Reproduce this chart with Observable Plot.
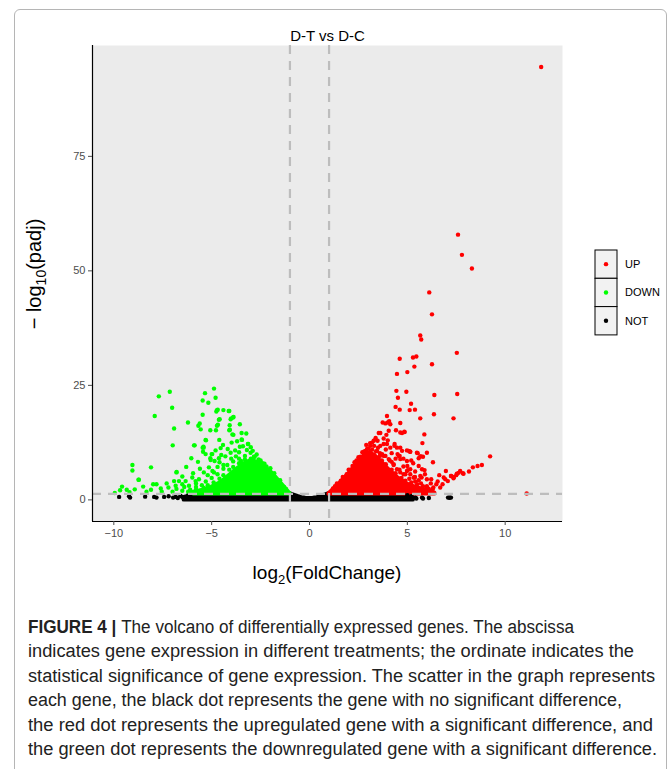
<!DOCTYPE html>
<html>
<head>
<meta charset="utf-8">
<script src="https://cdn.jsdelivr.net/npm/d3@7"></script>
<script src="https://cdn.jsdelivr.net/npm/@observablehq/plot@0.6"></script>
<style>
  body { margin: 0; background: #fff; }
  #fig { position: relative; width: 672px; height: 769px; overflow: hidden; font-family: "Liberation Sans", Arial, sans-serif; }
  #frame { position: absolute; left: 14px; top: 9px; width: 653px; height: 840px; border: 1px solid #b5b5b5; border-radius: 6px; box-sizing: border-box; }
  #chart { position: absolute; left: 0; top: 0; }
  #caption { position: absolute; left: 0; top: 598px; }
</style>
</head>
<body>
<div id="fig">
  <div id="frame"></div>
  <div id="chart"></div>
  <svg id="caption" width="672" height="171"></svg>
</div>
<script>
// Volcano plot: D-T vs D-C
const chartTitle = "D-T vs D-C";
const groups = ["UP", "DOWN", "NOT"];
const groupColors = ["#ff0000", "#00ff00", "#000000"];
const xTicks = [-10, -5, 0, 5, 10];
const yTicks = [0, 25, 50, 75];
const fcCut = [-1, 1];            // |log2 fold change| threshold
const padjCut = 1.301;            // -log10(0.05)
const xDomain = [-11.09, 12.93];
const yDomain = [-4.72, 99.2];

// Individually resolved genes: upregulated
const upX = [11.84,7.59,7.79,8.30,6.12,6.26,5.66,5.71,7.53,5.29,5.46,4.61,6.26,5.36,4.47,5.0,4.44,4.95,6.38,7.55,4.52,5.19,4.40,4.61,5.12,5.39,6.36,3.96,5.66,7.36,4.07,4.13,4.0,4.64,3.74,3.88,5.87,4.85,4.73,3.54,3.62,4.42,4.64,4.86,4.05,3.93,5.77,3.2,3.37,3.48,3.28,3.38,3.79,4.0,3.62,3.79,3.96,4.13,4.35,4.47,4.34,4.64,4.98,5.14,4.73,5.07,5.49,5.53,5.70,5.80,5.66,6.0,5.15,4.56,4.64,4.61,4.98,5.58,9.23,6.31,8.81,8.59,8.35,8.15,7.84,7.70,7.62,7.50,7.38,7.24,6.97,6.63,6.55,6.48,6.94,7.07,6.80,6.22,5.88,5.73,5.58,5.39,5.15,5.02,4.81,6.68,6.33,6.0,5.37,5.66,6.0,5.58,5.75,4.30,4.47,4.64,4.98,5.15,5.32,2.94,3.11,2.86,3.45,3.71,3.88,4.05,7.53,7.87,6.86,7.23,7.36,11.1,3.3,3.5,3.7,3.9,4.2,4.4,4.7,4.9,5.2,5.5,5.8,6.1,3.6,4.2,4.8,4.4,5.3,5.0,4.2,3.5,3.1,2.7,2.5,2.3,2.0,1.7,1.4,1.2,
  1.3,1.6,1.9,2.1,2.2,2.4,2.6,2.8,3.0,3.2,3.4,3.6,3.8,4.1,4.3,4.6,4.9,5.1,5.4,5.7,6.0,6.3,2.9,3.1,3.3,3.9,4.5,4.8,5.2,5.4,5.9,6.2];
const upY = [94.5,57.9,53.5,50.5,45.3,40.5,35.9,35.0,32.1,31.1,31.3,30.8,29.6,29.1,27.5,27.9,23.8,23.6,22.9,23.1,22.3,21.0,20.3,19.7,19.6,19.7,18.7,18.3,17.8,17.8,17.2,16.5,16.9,16.8,16.9,16.7,14.3,14.9,14.6,14.6,14.6,15.2,14.7,14.8,15.1,14.2,12.4,12.5,13.2,12.9,12.9,13.5,13.4,13.0,11.8,12.2,12.2,11.4,12.2,11.4,11.8,11.4,10.8,10.5,10.7,10.7,10.3,10.2,9.5,9.4,9.5,10.3,10.5,9.6,8.9,9.6,8.5,9.1,9.5,8.2,7.6,7.4,7.1,6.2,5.8,6.3,5.9,5.4,5.0,5.2,6.3,5.4,4.0,3.4,4.5,4.1,3.4,4.5,6.5,4.9,4.3,5.0,6.7,6.5,5.6,2.7,2.7,2.7,4.9,5.2,4.5,7.4,6.7,7.8,6.7,6.0,6.3,5.6,4.9,11.1,10.5,10.7,10.7,10.0,9.6,8.9,5.7,5.7,4.9,5.2,4.7,1.4,9.8,9.2,8.6,7.8,6.6,5.8,4.8,4.2,3.8,3.4,3.0,2.4,9.6,8.3,7.3,9.0,8.0,7.4,10.2,11.4,11.8,10.4,9.3,8.2,6.6,5.0,3.6,2.5,
  3.0,4.2,5.6,6.6,7.4,8.6,9.4,10.6,11.2,11.0,10.6,10.2,9.6,8.6,7.6,6.6,5.6,4.6,4.0,3.6,3.0,2.4,12.0,12.4,11.8,11.0,10.0,9.0,8.6,6.2,5.6,3.6];

// Individually resolved genes: downregulated
const downX = [-9.95,-9.68,-9.58,-9.34,-9.05,-9.05,-8.93,-8.74,-8.33,-8.10,-8.10,-7.99,-7.82,-7.91,-7.70,-7.55,-7.30,-7.21,-7.14,-7.02,-6.92,-6.99,-6.80,-6.92,-6.84,-6.67,-6.50,-6.33,-6.16,-6.21,-6.04,-5.95,-5.87,-5.68,-5.61,-5.56,-5.46,-5.46,-5.17,-5.34,-4.88,-4.80,-5.29,-5.07,-5.42,-5.44,-5.31,-5.0,-5.05,-4.76,-4.69,-4.59,-4.40,-4.78,-4.85,-4.63,-5.14,-4.96,-4.88,-5.99,-5.82,-5.65,-4.73,-4.10,-4.0,-3.88,-4.68,-4.08,-3.56,-4.10,-3.94,-3.47,-3.23,-5.31,-4.61,-3.98,-3.47,-4.42,-3.13,-4.80,-4.18,-3.56,-5.41,-4.51,-4.03,-3.76,-3.01,-2.84,-4.97,-5.07,-4.13,-3.91,-4.03,-4.73,-4.63,-4.07,-3.89,-3.45,-3.15,-4.54,-5.90,-5.46,-8.72,-6.79,-2.6,-2.4,-2.2,-3.3,-3.6,-3.9,-4.2,-4.4,-4.7,-5.0,-5.3,-5.5,-5.8,-6.1,-6.5,-7.0,-3.2,-3.4,-3.8,-4.3,-4.6,-4.4,-3.5,-2.7,-2.9,-3.7,-5.2,-5.6,-5.7,-6.3,-6.5,-7.6,-8.5,-9.2,-1.3,-1.8,
  -1.2,-1.5,-1.8,-2.0,-2.3,-2.5,-2.8,-3.0,-3.3,-3.6,-3.9,-4.1,-4.4,-4.6,-4.9,-5.2,-5.4,-5.8,-6.2,-3.0,-3.6,-4.0,-4.7,-5.4,-5.8,-6.4,-6.8];
const downY = [1.5,2.1,2.9,2.2,7.6,6.4,2.3,4.4,1.8,7.1,2.2,3.4,3.4,18.3,22.6,1.8,3.6,2.7,23.6,20.1,15.6,11.9,6.0,4.1,3.1,4.1,3.4,4.1,3.1,16.9,9.1,5.8,11.9,16.2,16.7,15.4,18.6,21.7,21.2,23.3,24.3,22.3,13.0,15.2,11.6,10.5,10.0,10.0,8.7,19.3,19.7,17.6,19.6,15.2,8.5,9.1,7.1,6.3,6.0,4.9,4.1,4.5,19.6,19.4,17.8,18.1,16.4,16.3,16.5,15.2,14.3,14.6,14.5,13.1,13.1,12.5,13.2,12.0,12.2,10.8,11.1,11.6,11.4,9.8,10.3,9.5,10.3,9.4,10.0,9.1,19.4,18.0,17.6,16.2,17.5,15.3,14.2,13.1,12.2,11.3,11.9,11.4,4.4,6.1,8.8,8.0,7.3,9.6,9.0,8.4,7.6,6.8,5.6,4.8,4.0,3.2,2.8,2.2,2.0,1.8,10.9,11.7,10.8,9.5,8.2,7.6,8.5,9.9,10.7,12.8,5.4,6.8,8.3,7.2,5.1,2.5,2.9,1.7,2.8,5.1,
  2.4,4.3,5.8,6.9,7.9,8.6,9.4,9.0,8.8,8.0,7.2,6.6,5.4,4.6,3.8,3.2,2.6,2.2,1.8,11.5,10.4,9.0,7.2,6.0,3.6,2.8,2.4];

// Individually resolved genes: not significant
const notX = [-9.73,-9.22,-9.17,-7.94,-7.82,-7.43,-6.97,-6.84,-6.73,-6.50,-6.33,-6.07,5.41,5.46,5.75,5.80,7.08,7.16,7.23,-8.4,-7.2,-6.6,-6.2,5.2,5.0,6.1];
const notY = [0.65,0.8,0.5,0.65,0.5,0.65,0.5,0.65,0.4,0.65,0.5,0.65,0.5,0.3,0.5,0.3,0.5,0.45,0.5,0.7,0.8,0.9,1.0,0.8,1.0,0.4];

// Saturated cores of each group (upper envelope of the densely overplotted genes)
const notCoreX = [-6.4,-6.0,-5.5,-5.0,-4.0,-3.0,-2.0,-1.0,-0.8,-0.6,-0.4,-0.2,0,0.2,0.4,0.6,0.8,1.0,2.0,3.0,4.0,4.6,5.0,5.3];
const notCoreTop = [0.5,0.9,1.1,1.25,1.3,1.3,1.3,1.3,1.0,0.7,0.45,0.3,0.25,0.3,0.45,0.7,1.0,1.3,1.3,1.3,1.3,1.2,0.9,0.5];
const downCoreX = [-6.0,-5.5,-5.0,-4.5,-4.0,-3.6,-3.2,-2.9,-2.5,-2.0,-1.5,-1.0];
const downCoreTop = [1.5,2.0,2.7,3.8,5.6,7.0,8.2,8.6,7.8,6.2,3.8,1.3];
const upCoreX = [1.0,1.5,2.0,2.5,2.8,3.0,3.3,3.6,4.0,4.5,5.0,5.5,6.0,6.4];
const upCoreTop = [1.3,3.3,5.6,8.0,9.6,10.2,9.8,8.6,6.8,4.8,3.4,2.6,2.0,1.5];

const pts = (xs, ys) => xs.map((x, i) => ({x, y: ys[i]}));
const band = (xs, tops, base) => xs.map((x, i) => ({x, lo: base, hi: tops[i]}));

const coreStyle = (c) => ({x: "x", y1: "lo", y2: "hi", fill: c, stroke: c, strokeWidth: 4.4, strokeLinejoin: "round"});
const dashStyle = {stroke: "#bdbdbd", strokeWidth: 2.2, strokeDasharray: "9,7"};

const plot = Plot.plot({
  width: 672,
  height: 598,
  marginLeft: 92,
  marginRight: 110,
  marginTop: 45,
  marginBottom: 77,
  x: {domain: xDomain},
  y: {domain: yDomain},
  style: {background: "transparent", fontFamily: "'Liberation Sans', Arial, sans-serif", fontSize: "11px"},
  marks: [
    Plot.frame({fill: "#ebebeb", stroke: "none"}),
    Plot.areaY(band(notCoreX, notCoreTop, 0), coreStyle(groupColors[2])),
    Plot.areaY(band(downCoreX, downCoreTop, padjCut), coreStyle(groupColors[1])),
    Plot.areaY(band(upCoreX, upCoreTop, padjCut), coreStyle(groupColors[0])),
    Plot.dot(pts(notX, notY), {x: "x", y: "y", r: 2.2, fill: groupColors[2], stroke: "none"}),
    Plot.dot(pts(downX, downY), {x: "x", y: "y", r: 2.2, fill: groupColors[1], stroke: "none"}),
    Plot.dot(pts(upX, upY), {x: "x", y: "y", r: 2.2, fill: groupColors[0], stroke: "none"}),
    Plot.ruleX(fcCut, dashStyle),
    Plot.ruleY([padjCut], dashStyle),
    Plot.ruleX([xDomain[0]], {stroke: "#000", strokeWidth: 1.2}),
    Plot.ruleY([yDomain[0]], {stroke: "#000", strokeWidth: 1.2}),
    Plot.axisX({ticks: xTicks, tickSize: 4, tickPadding: 4, label: null, color: "#4d4d4d"}),
    Plot.axisY({ticks: yTicks, tickSize: 4, tickPadding: 3, label: null, color: "#4d4d4d"}),
    Plot.text([chartTitle], {text: d => d, frameAnchor: "top", dy: -15, fontSize: 15, fill: "#000"})
  ]
});
document.getElementById("chart").appendChild(plot);

const svg = d3.select(plot);

// Axis titles with subscripts
const xt = svg.append("text")
  .attr("x", 327).attr("y", 579)
  .attr("text-anchor", "middle")
  .attr("font-size", 19).attr("fill", "#000");
xt.append("tspan").text("log");
xt.append("tspan").attr("dy", 5).attr("font-size", 13).text("2");
xt.append("tspan").attr("dy", -5).text("(FoldChange)");

const yt = svg.append("text")
  .attr("transform", "translate(41,274) rotate(-90)")
  .attr("text-anchor", "middle")
  .attr("font-size", 20).attr("fill", "#000");
yt.append("tspan").text("\u2212 log");
yt.append("tspan").attr("dy", 5).attr("font-size", 14).text("10");
yt.append("tspan").attr("dy", -5).text("(padj)");

// Legend
const keyH = 28.3;
const lg = svg.append("g").attr("text-anchor", "start");
groups.forEach((g, i) => {
  const y0 = 250 + i * keyH;
  lg.append("rect").attr("x", 595).attr("y", y0).attr("width", 22).attr("height", keyH)
    .attr("fill", "#f2f2f2").attr("stroke", "#000").attr("stroke-width", 1);
  lg.append("circle").attr("cx", 606).attr("cy", y0 + keyH / 2).attr("r", 2.2).attr("fill", groupColors[i]);
  lg.append("text").attr("x", 625).attr("y", y0 + keyH / 2).attr("dy", "0.35em")
    .attr("text-anchor", "start")
    .attr("font-size", 11).attr("fill", "#000").text(g);
});

// Caption
const captionLines = [
  ["FIGURE 4 | ", "The volcano of differentially expressed genes. The abscissa"],
  ["", "indicates gene expression in different treatments; the ordinate indicates the"],
  ["", "statistical significance of gene expression. The scatter in the graph represents"],
  ["", "each gene, the black dot represents the gene with no significant difference,"],
  ["", "the red dot represents the upregulated gene with a significant difference, and"],
  ["", "the green dot represents the downregulated gene with a significant difference."]
];
const captionWidths = [546, 606, 627, 594, 625, 629];
const cap = d3.select("#caption");
captionLines.forEach(([bold, rest], i) => {
  const t = cap.append("text")
    .attr("x", 28).attr("y", 35 + i * 24.4)
    .attr("font-size", 18).attr("fill", "#222")
    .attr("font-family", "'Liberation Sans', Arial, sans-serif")
    .attr("textLength", captionWidths[i]).attr("lengthAdjust", "spacingAndGlyphs");
  if (bold) t.append("tspan").attr("font-weight", "bold").text(bold);
  t.append("tspan").text(rest);
});
</script>
</body>
</html>
